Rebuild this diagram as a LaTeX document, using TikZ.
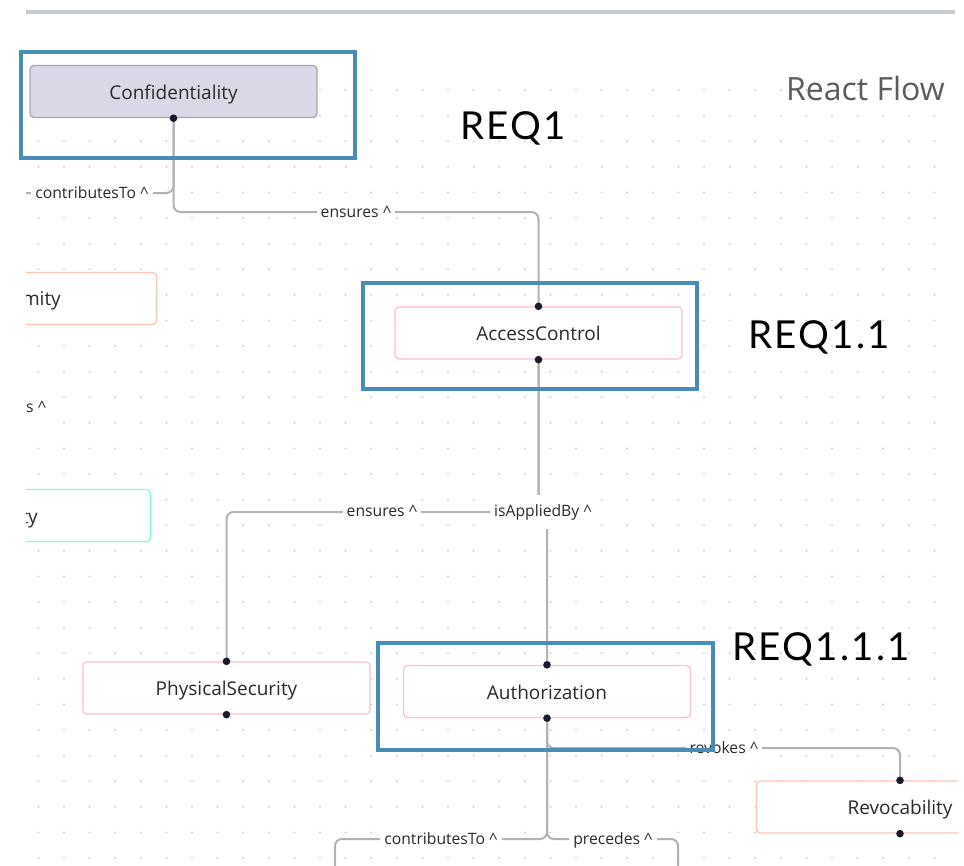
\documentclass[tikz,border=0pt]{standalone}
\usepackage{fontspec}
\setmainfont{Open Sans}
\newfontfamily\reqfont[LetterSpace=6]{Lato}
\definecolor{edgec}{HTML}{B1B1B7}
\definecolor{dotc}{HTML}{C4C4C8}
\definecolor{barc}{HTML}{C6CAD2}
\definecolor{hl}{HTML}{478DB8}
\definecolor{pinkc}{HTML}{FFC0CB}
\definecolor{salmonc}{HTML}{FFC6B6}
\definecolor{aquac}{HTML}{7FFFD4}
\definecolor{conffill}{HTML}{D9D8E6}
\definecolor{confdraw}{HTML}{A8A7B8}
\definecolor{handlec}{HTML}{1A192B}
\definecolor{txtc}{HTML}{2A2A2A}
\definecolor{brandc}{HTML}{5C5C5C}
\pgfdeclarelayer{gridlayer}
\pgfdeclarelayer{edgelayer}
\pgfdeclarelayer{labellayer}
\pgfsetlayers{gridlayer,edgelayer,labellayer,main}
\tikzset{
  flownode/.style={draw=pinkc, line width=1.3pt, rounded corners=4pt, fill=white,
    minimum width=287pt, minimum height=52pt, inner sep=0pt, text=txtc,
    text height=17pt, text depth=2pt,
    font=\fontsize{19}{22}\selectfont},
  edge/.style={draw=edgec, line width=2pt, rounded corners=7pt},
  elabel/.style={fill=white, inner xsep=4pt, inner ysep=0pt, minimum height=34pt,
    text=txtc, font=\fontsize{15.7}{18}\selectfont},
  handle/.style={fill=handlec},
  reqbox/.style={draw=hl, line width=3.5pt},
  reqtext/.style={anchor=base west, inner sep=0pt, font=\reqfont\fontsize{38.5}{44}\selectfont},
  paneclip/.style={insert path={(26,16) rectangle (958,865)}}
}
\begin{document}
\begin{tikzpicture}[x=1pt,y=-1pt]
\useasboundingbox (0,0) rectangle (964,865);
% top bar of the pane
\fill[barc] (26,10) rectangle (955,14);
% dotted background grid
\begin{pgfonlayer}{gridlayer}
\fill[white] (0,0) rectangle (964,865);
\begin{scope}
\clip[paneclip];
\foreach \i in {0,...,35} {
  \foreach \j in {0,...,30} {
    \fill[dotc] ({38.4+25.6*\i},{90+25.6*\j}) circle (0.95pt);
  }
}
\end{scope}
\end{pgfonlayer}
\begin{scope}
\clip[paneclip];
% nodes
\node[flownode, draw=confdraw, fill=conffill, line width=1.4pt] (conf) at (173.5,91.5) {Confidentiality};
\node[flownode, draw=salmonc] (anon) at (13,298.5) {};
\node[anchor=base east, inner sep=0pt, text=txtc, font=\fontsize{19}{22}\selectfont] (anontxt) at (61,305) {mity};
\node[flownode, draw=aquac] (priv) at (7,515.5) {};
\node[anchor=base east, inner sep=0pt, text=txtc, font=\fontsize{19}{22}\selectfont] (privtxt) at (38,523) {ty};
\node[flownode] (acc) at (538.5,333) {AccessControl};
\node[flownode] (phys) at (226.5,688) {PhysicalSecurity};
\node[flownode] (auth) at (547,691.5) {Authorization};
\node[flownode, draw=salmonc] (revo) at (900,807) {Revocability};
% edge ends outside the view
\coordinate (cfar) at (335,900);
\coordinate (pfar) at (678,900);
\coordinate (anonfar) at (11,272);
% connection handles
\foreach \h in {conf.south, acc.north, acc.south, phys.north, phys.south,
                auth.north, auth.south, revo.north, revo.south}
  \fill[handle] (\h) circle (3.8pt);
\end{scope}
% edges
\begin{pgfonlayer}{edgelayer}
\begin{scope}
\clip[paneclip];
\draw[edge] (conf.south) -- (conf.south |- 0,212) -- (acc.north |- 0,212) -- (acc.north);
\draw[edge] (conf.south) -- (conf.south |- 0,193) -- (anonfar |- 0,193);
\draw[edge] (acc.south) -- (acc.south |- 0,512) -- (phys.north |- 0,512) -- (phys.north);
\draw[edge] (acc.south) -- (acc.south |- 0,512) -- (auth.north |- 0,512) -- (auth.north);
\draw[edge] (auth.south) -- (auth.south |- 0,839) -- (cfar |- 0,839) -- (cfar);
\draw[edge] (auth.south) -- (auth.south |- 0,839) -- (pfar |- 0,839) -- (pfar);
\draw[edge] (auth.south) -- (auth.south |- 0,748) -- (revo.north |- 0,748) -- (revo.north);
\end{scope}
\end{pgfonlayer}
% edge labels
\begin{pgfonlayer}{labellayer}
\begin{scope}
\clip[paneclip];
\node[elabel] (l1) at (356,212) {ensures \textasciicircum};
\node[elabel] (l2) at (92,193) {contributesTo \textasciicircum};
\node[elabel, anchor=west, inner xsep=0pt] (l3) at (26,407) {s \textasciicircum};
\node[elabel] (l4) at (382,511) {ensures \textasciicircum};
\node[elabel] (l5) at (543,512) {isAppliedBy \textasciicircum};
\node[elabel] (l6) at (441,839) {contributesTo \textasciicircum};
\node[elabel] (l7) at (613,840) {precedes \textasciicircum};
\node[elabel] (l8) at (724,748) {revokes \textasciicircum};
\end{scope}
\end{pgfonlayer}
% branding text
\node[anchor=base west, inner sep=0pt, text=brandc, font=\fontsize{32}{36}\selectfont] (brand) at (786,100) {React Flow};
% requirement highlight boxes
\draw[reqbox] (21,52) rectangle (355,158);
\draw[reqbox] (363,283) rectangle (697,389);
\draw[reqbox] (378,643) rectangle (713,750);
\node[reqtext] (r1) at (460,139) {REQ1};
\node[reqtext] (r2) at (748,348) {REQ1.1};
\node[reqtext] (r3) at (732,660) {REQ1.1.1};
\end{tikzpicture}
\end{document}
